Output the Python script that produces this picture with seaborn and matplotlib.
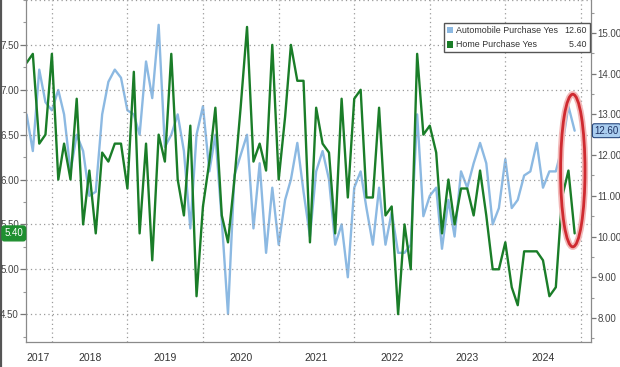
import pandas as pd
import matplotlib
matplotlib.use("Agg")
import matplotlib.pyplot as plt
import matplotlib.dates as mdates
import matplotlib.transforms as mtransforms
from matplotlib import font_manager
from matplotlib.patches import Ellipse, Patch
from matplotlib.lines import Line2D
from matplotlib.ticker import MultipleLocator, FormatStrFormatter, NullFormatter
import seaborn as sns

# monthly readings, Sep 2017 .. Dec 2024
start_month = "2017-09-01"
home_purchase = [7.3, 7.4, 6.4, 6.5,
                 7.4, 6.0, 6.4, 6.0, 6.9, 5.5, 6.1, 5.4, 6.3, 6.2, 6.4, 6.4,
                 5.9, 7.2, 5.4, 6.4, 5.1, 6.5, 6.2, 7.4, 6.0, 5.6, 6.6, 4.7,
                 5.7, 6.2, 6.8, 5.6, 5.3, 6.0, 6.8, 7.7, 6.2, 6.4, 6.1, 7.5,
                 6.0, 6.7, 7.5, 7.1, 7.1, 5.3, 6.8, 6.4, 6.3, 5.4, 6.9, 5.8,
                 6.9, 7.0, 5.8, 5.8, 6.8, 5.6, 5.7, 4.5, 5.5, 5.0, 7.4, 6.5,
                 6.6, 6.3, 5.4, 6.0, 5.5, 5.9, 5.9, 5.6, 6.1, 5.6, 5.0, 5.0,
                 5.3, 4.8, 4.6, 5.2, 5.2, 5.2, 5.1, 4.7, 4.8, 5.8, 6.1, 5.4]
auto_purchase = [13.0, 12.1, 14.1, 13.3,
                 13.1, 13.6, 13.0, 11.6, 12.5, 12.1, 11.0, 11.1, 13.0, 13.8, 14.1, 13.9,
                 13.1, 13.0, 12.5, 14.3, 13.4, 15.2, 12.2, 12.5, 13.0, 12.1, 10.2, 12.5,
                 13.2, 11.6, 12.5, 10.4, 8.1, 11.5, 12.0, 12.5, 10.2, 11.8, 9.6, 11.2,
                 9.8, 10.9, 11.4, 12.3, 11.1, 10.0, 11.6, 12.1, 11.4, 9.8, 10.3, 9.0,
                 11.2, 11.6, 10.7, 9.8, 11.2, 9.8, 10.6, 9.6, 9.6, 9.8, 13.0, 10.5,
                 11.0, 11.2, 9.7, 10.9, 10.0, 11.6, 11.2, 11.8, 12.3, 11.8, 10.3, 10.7,
                 11.9, 10.7, 10.9, 11.5, 11.6, 12.3, 11.2, 11.6, 11.6, 12.2, 13.2, 12.6]
years = [2017, 2018, 2019, 2020, 2021, 2022, 2023, 2024]
left_ticks = [4.5, 5.0, 5.5, 6.0, 6.5, 7.0, 7.5]
right_ticks = [8, 9, 10, 11, 12, 13, 14, 15]
series_names = ["Automobile Purchase Yes", "Home Purchase Yes"]

GREEN = "#1a7d28"
BLUE = "#8cb9e2"

dates = pd.date_range(start_month, periods=len(home_purchase), freq="MS")
df = pd.DataFrame({"date": dates, "home": home_purchase, "auto": auto_purchase})

sns.set_style("white")
installed = {f.name for f in font_manager.fontManager.ttflist}
font = "Liberation Sans Narrow" if "Liberation Sans Narrow" in installed else "Liberation Sans"
plt.rcParams["font.family"] = [font, "DejaVu Sans"]

fig = plt.figure(figsize=(6.2, 3.67), dpi=100)
fig.patch.set_facecolor("white")
ax = fig.add_axes([26 / 620, 25 / 367, 565 / 620, 342 / 367])
ax2 = ax.twinx()
# home line on top, like the source
ax.set_zorder(2)
ax2.set_zorder(1)
ax.patch.set_visible(False)

sns.lineplot(data=df, x="date", y="auto", ax=ax2, color=BLUE, lw=1.7)
sns.lineplot(data=df, x="date", y="home", ax=ax, color=GREEN, lw=1.7)

ax.set_xlim(pd.Timestamp("2017-08-29"), pd.Timestamp("2025-02-18"))
ax.set_ylim(4.19, 8.0)
ax2.set_ylim(7.41, 15.81)
ax.set_xlabel("")
ax.set_ylabel("")
ax2.set_ylabel("")

ax.set_yticks(left_ticks)
ax.yaxis.set_major_formatter(FormatStrFormatter("%.2f"))
ax.yaxis.set_minor_locator(MultipleLocator(0.25))
ax2.set_yticks(right_ticks)
ax2.yaxis.set_major_formatter(FormatStrFormatter("%.2f"))
ax2.yaxis.set_minor_locator(MultipleLocator(0.5))

ax.xaxis.set_major_locator(mdates.YearLocator())
ax.xaxis.set_major_formatter(NullFormatter())
ax.xaxis.set_minor_locator(mdates.MonthLocator(bymonth=[1, 4, 7, 10]))

for a in (ax, ax2):
    for s in a.spines.values():
        s.set_color("#8a8a8a")
        s.set_linewidth(0.9)
    a.spines["top"].set_visible(False)
ax.spines["right"].set_visible(False)
ax2.spines["left"].set_visible(False)
ax2.spines["bottom"].set_visible(False)

ax.tick_params(axis="y", which="major", direction="out", length=4, width=0.9,
               color="#777", labelsize=7, labelcolor="#444", pad=1)
ax.tick_params(axis="y", which="minor", direction="out", length=2, width=0.8, color="#999")
ax2.tick_params(axis="y", which="major", direction="out", length=3.5, width=0.9,
                color="#777", labelsize=7, labelcolor="#444", pad=1)
ax2.tick_params(axis="y", which="minor", direction="out", length=2, width=0.8, color="#999")
ax.tick_params(axis="x", which="major", direction="out", length=18, width=0.9, color="#b5b5b5")
ax.tick_params(axis="x", which="minor", direction="out", length=2.5, width=0.8, color="#777")
ax2.tick_params(axis="x", which="both", bottom=False, labelbottom=False)

grid_style = dict(ls=(0, (1, 2.5)), color="#9a9a9a", lw=0.9)
ax.grid(axis="y", which="major", **grid_style)
ax.grid(axis="x", which="major", **grid_style)
ax.axhline(8.0, **grid_style)

# year labels under the axis
xmin, xmax = ax.get_xlim()
trans_x = mtransforms.blended_transform_factory(ax.transData, ax.transAxes)
for yr in years:
    lo = max(mdates.date2num(pd.Timestamp(f"{yr}-01-01")), xmin)
    hi = min(mdates.date2num(pd.Timestamp(f"{yr + 1}-01-01")), xmax)
    ax.text((lo + hi) / 2 - (6 if yr == years[0] else 0), -0.047, str(yr), transform=trans_x,
            ha="center", va="center", fontsize=7.5, color="#333")

# last-value tags on the axes
trans_l = mtransforms.blended_transform_factory(ax.transAxes, ax.transData)
ax.text(-0.005, home_purchase[-1], f"{home_purchase[-1]:.2f}", transform=trans_l,
        ha="right", va="center", fontsize=7, color="white", clip_on=False, zorder=7,
        bbox=dict(boxstyle="round,pad=0.25", fc="#1f8f30", ec="#1f8f30"))
trans_r = mtransforms.blended_transform_factory(ax2.transAxes, ax2.transData)
ax2.text(1.006, auto_purchase[-1], f"{auto_purchase[-1]:.2f}", transform=trans_r,
         ha="left", va="center", fontsize=7, color="#1c2f60", clip_on=False,
         bbox=dict(boxstyle="round,pad=0.2", fc="#a9cdef", ec="#2a4a80", lw=0.8))

# legend: names in the first column, latest values in the second
last_values = [auto_purchase[-1], home_purchase[-1]]
value_labels = [f"{v:.2f}".rjust(5).replace(" ", "  ") for v in last_values]
handles = [Patch(fc=BLUE, ec="none"), Patch(fc=GREEN, ec="none"),
           Patch(fc="none", ec="none"), Patch(fc="none", ec="none")]
leg = ax.legend(handles, series_names + value_labels, ncols=2, loc="upper left", mode="expand",
                bbox_to_anchor=(0.740, 0.933, 0.258, 0.0), fontsize=6.4,
                handlelength=0.7, handleheight=0.8, handletextpad=0.3,
                labelspacing=0.6, borderpad=0.35, borderaxespad=0.0, columnspacing=0.1,
                fancybox=False, frameon=True, framealpha=1, edgecolor="#555", labelcolor="#333")
leg.get_frame().set_linewidth(1.0)
leg.set_zorder(5)

# red highlight around the latest readings
centre = mdates.date2num(dates[-1] - pd.Timedelta(days=9))
ax.add_patch(Ellipse((centre, 6.1), 118, 1.70, fill=False, ec="#f2b8b8", lw=4.5, zorder=4))
ax.add_patch(Ellipse((centre, 6.1), 118, 1.70, fill=False, ec="#cf2a30", lw=2.0, zorder=4))

# dark frame edge on the left side of the picture
fig.add_artist(Line2D([0.002, 0.002], [0, 1], transform=fig.transFigure, color="#555", lw=1.6))

fig.savefig("out.png", dpi=100, facecolor="white")
